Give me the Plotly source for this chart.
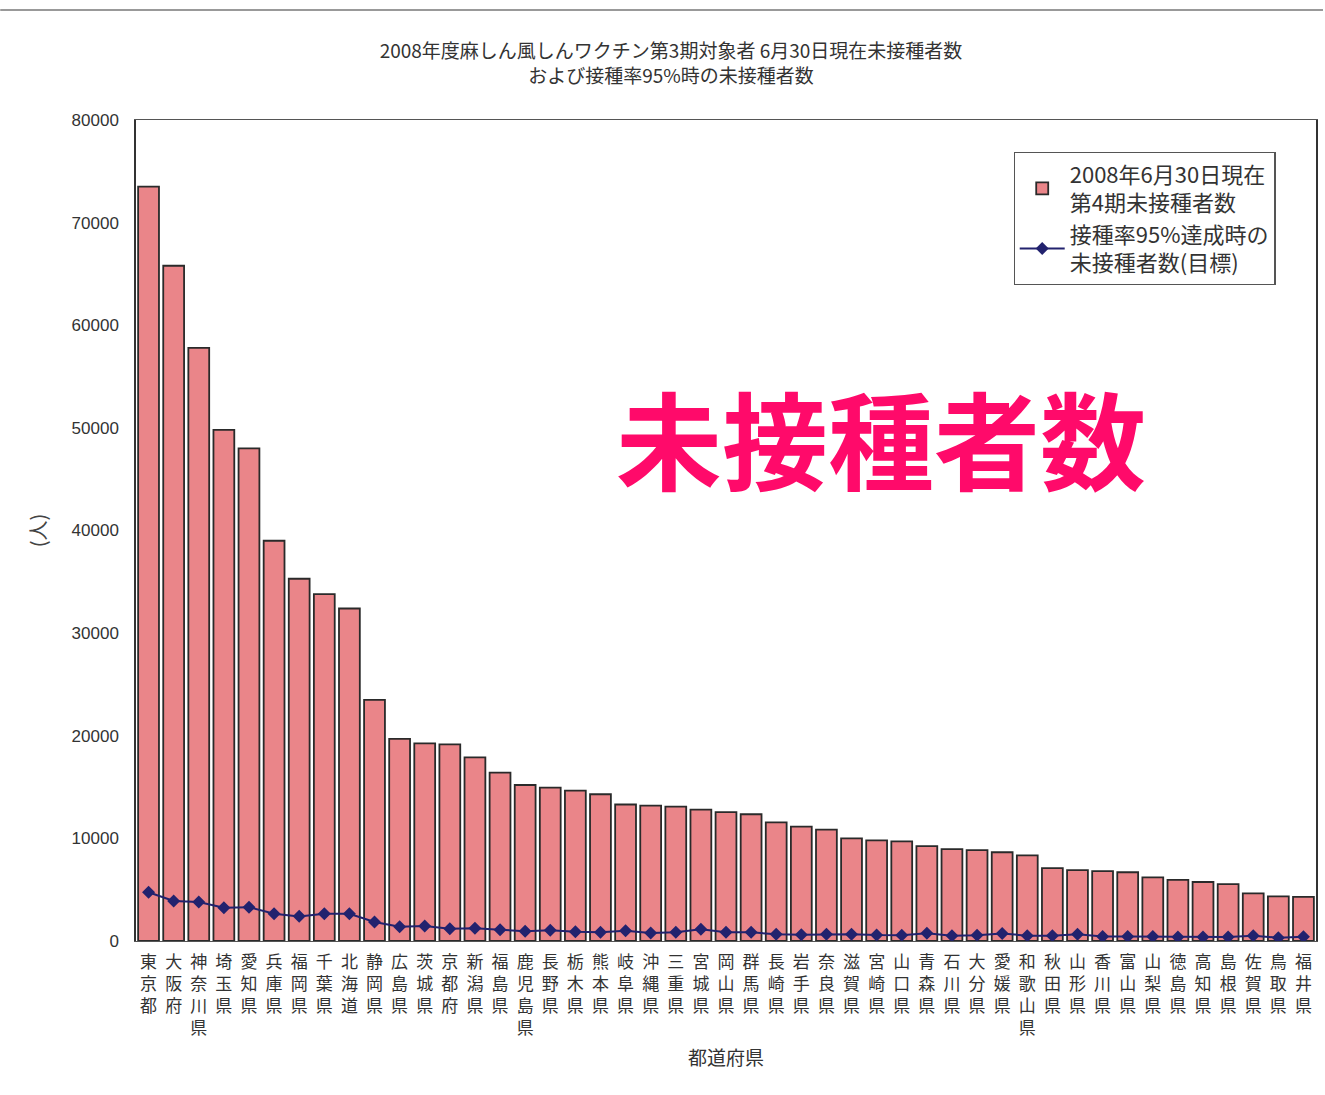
import plotly.graph_objects as go

# Prefectures, ordered by the number of unvaccinated persons
prefectures = [
    "東京都", "大阪府", "神奈川県", "埼玉県", "愛知県", "兵庫県", "福岡県", "千葉県", "北海道",
    "静岡県", "広島県", "茨城県", "京都府", "新潟県", "福島県", "鹿児島県", "長野県", "栃木県",
    "熊本県", "岐阜県", "沖縄県", "三重県", "宮城県", "岡山県", "群馬県", "長崎県", "岩手県",
    "奈良県", "滋賀県", "宮崎県", "山口県", "青森県", "石川県", "大分県", "愛媛県", "和歌山県",
    "秋田県", "山形県", "香川県", "富山県", "山梨県", "徳島県", "高知県", "島根県", "佐賀県",
    "鳥取県", "福井県",
]

# Unvaccinated persons as of 2008-06-30 (phase 4)
unvaccinated = [
    73500, 65800, 57800, 49800, 48000, 39000, 35300, 33800, 32400,
    23500, 19700, 19250, 19150, 17900, 16400, 15200, 14950, 14650,
    14300, 13300, 13200, 13100, 12800, 12550, 12350, 11550, 11150,
    10850, 10000, 9800, 9700, 9250, 8950, 8850, 8650, 8350,
    7100, 6900, 6800, 6700, 6200, 5950, 5750, 5550, 4650,
    4350, 4300,
]

# Unvaccinated persons if a 95% vaccination rate were achieved (target)
target = [
    4750, 3900, 3800, 3250, 3300, 2650, 2400, 2650, 2650,
    1850, 1400, 1450, 1200, 1250, 1100, 950, 1050, 900,
    850, 1000, 780, 850, 1150, 850, 850, 650, 620,
    650, 650, 580, 570, 750, 520, 570, 730, 520,
    520, 650, 430, 430, 430, 380, 380, 380, 520,
    320, 420,
]

y_ticks = [0, 10000, 20000, 30000, 40000, 50000, 60000, 70000, 80000]

# Vertical (stacked) category labels
tick_text = ["<br>".join(list(p)) for p in prefectures]

fig = go.Figure()

fig.add_trace(go.Bar(
    x=prefectures,
    y=unvaccinated,
    name="2008年6月30日現在<br>第4期未接種者数",
    marker=dict(color="#EA8589", line=dict(color="#2a2a2a", width=1.8)),
))

fig.add_trace(go.Scatter(
    x=prefectures,
    y=target,
    mode="lines+markers",
    name="接種率95%達成時の<br>未接種者数(目標)",
    line=dict(color="#22226e", width=2),
    marker=dict(symbol="diamond", size=10, color="#22226e"),
))

cjk = "Noto Sans CJK JP"

fig.update_layout(
    width=1325,
    height=1095,
    margin=dict(l=136, r=7, t=120, b=154),
    paper_bgcolor="white",
    plot_bgcolor="white",
    bargap=0.17,
    showlegend=True,
    title=dict(
        text="2008年度麻しん風しんワクチン第3期対象者 6月30日現在未接種者数<br>および接種率95%時の未接種者数",
        x=671 / 1325,
        xanchor="center",
        y=1 - 58 / 1095,
        yanchor="top",
        font=dict(family=cjk, size=19, color="#333333"),
    ),
    legend=dict(
        x=(1015 - 136) / 1182,
        y=1 - (152 - 120) / 821,
        xanchor="left",
        yanchor="top",
        bgcolor="white",
        bordercolor="#555555",
        borderwidth=1.2,
        font=dict(family=cjk, size=22, color="#333333"),
        itemwidth=45,
        tracegroupgap=6,
    ),
    xaxis=dict(
        tickmode="array",
        tickvals=prefectures,
        ticktext=tick_text,
        tickangle=0,
        tickfont=dict(family=cjk, size=17, color="#333333"),
        ticks="outside",
        ticklen=5,
        tickcolor="rgba(0,0,0,0)",
        range=[-0.5, len(prefectures) - 0.5],
        showline=True,
        linecolor="#555555",
        linewidth=1.2,
        mirror=True,
        showgrid=False,
        title=dict(text="都道府県", font=dict(family=cjk, size=19, color="#333333"), standoff=13),
    ),
    yaxis=dict(
        range=[0, 80000],
        tickvals=y_ticks,
        tickformat="d",
        tickfont=dict(family="Liberation Sans", size=17, color="#333333"),
        ticks="outside",
        ticklen=12,
        tickcolor="rgba(0,0,0,0)",
        showline=True,
        linecolor="#333333",
        linewidth=1.5,
        mirror=True,
        showgrid=False,
        zeroline=False,
        title=dict(text="(人)", font=dict(family=cjk, size=20, color="#444444"), standoff=20),
    ),
    annotations=[
        dict(
            text="未接種者数",
            x=(882 - 136) / 1182,
            y=1 - (436 - 120) / 821,
            xref="paper",
            yref="paper",
            xanchor="center",
            yanchor="middle",
            showarrow=False,
            font=dict(family=cjk, size=106, color="#FF0A6A", weight="bold"),
        )
    ],
    shapes=[
        dict(
            type="line",
            xref="paper",
            yref="paper",
            x0=-136 / 1182,
            x1=(1325 - 136) / 1182,
            y0=1 + (120 - 10) / 821,
            y1=1 + (120 - 10) / 821,
            line=dict(color="#777777", width=1.5),
        )
    ],
)

fig.write_html("out.html")
